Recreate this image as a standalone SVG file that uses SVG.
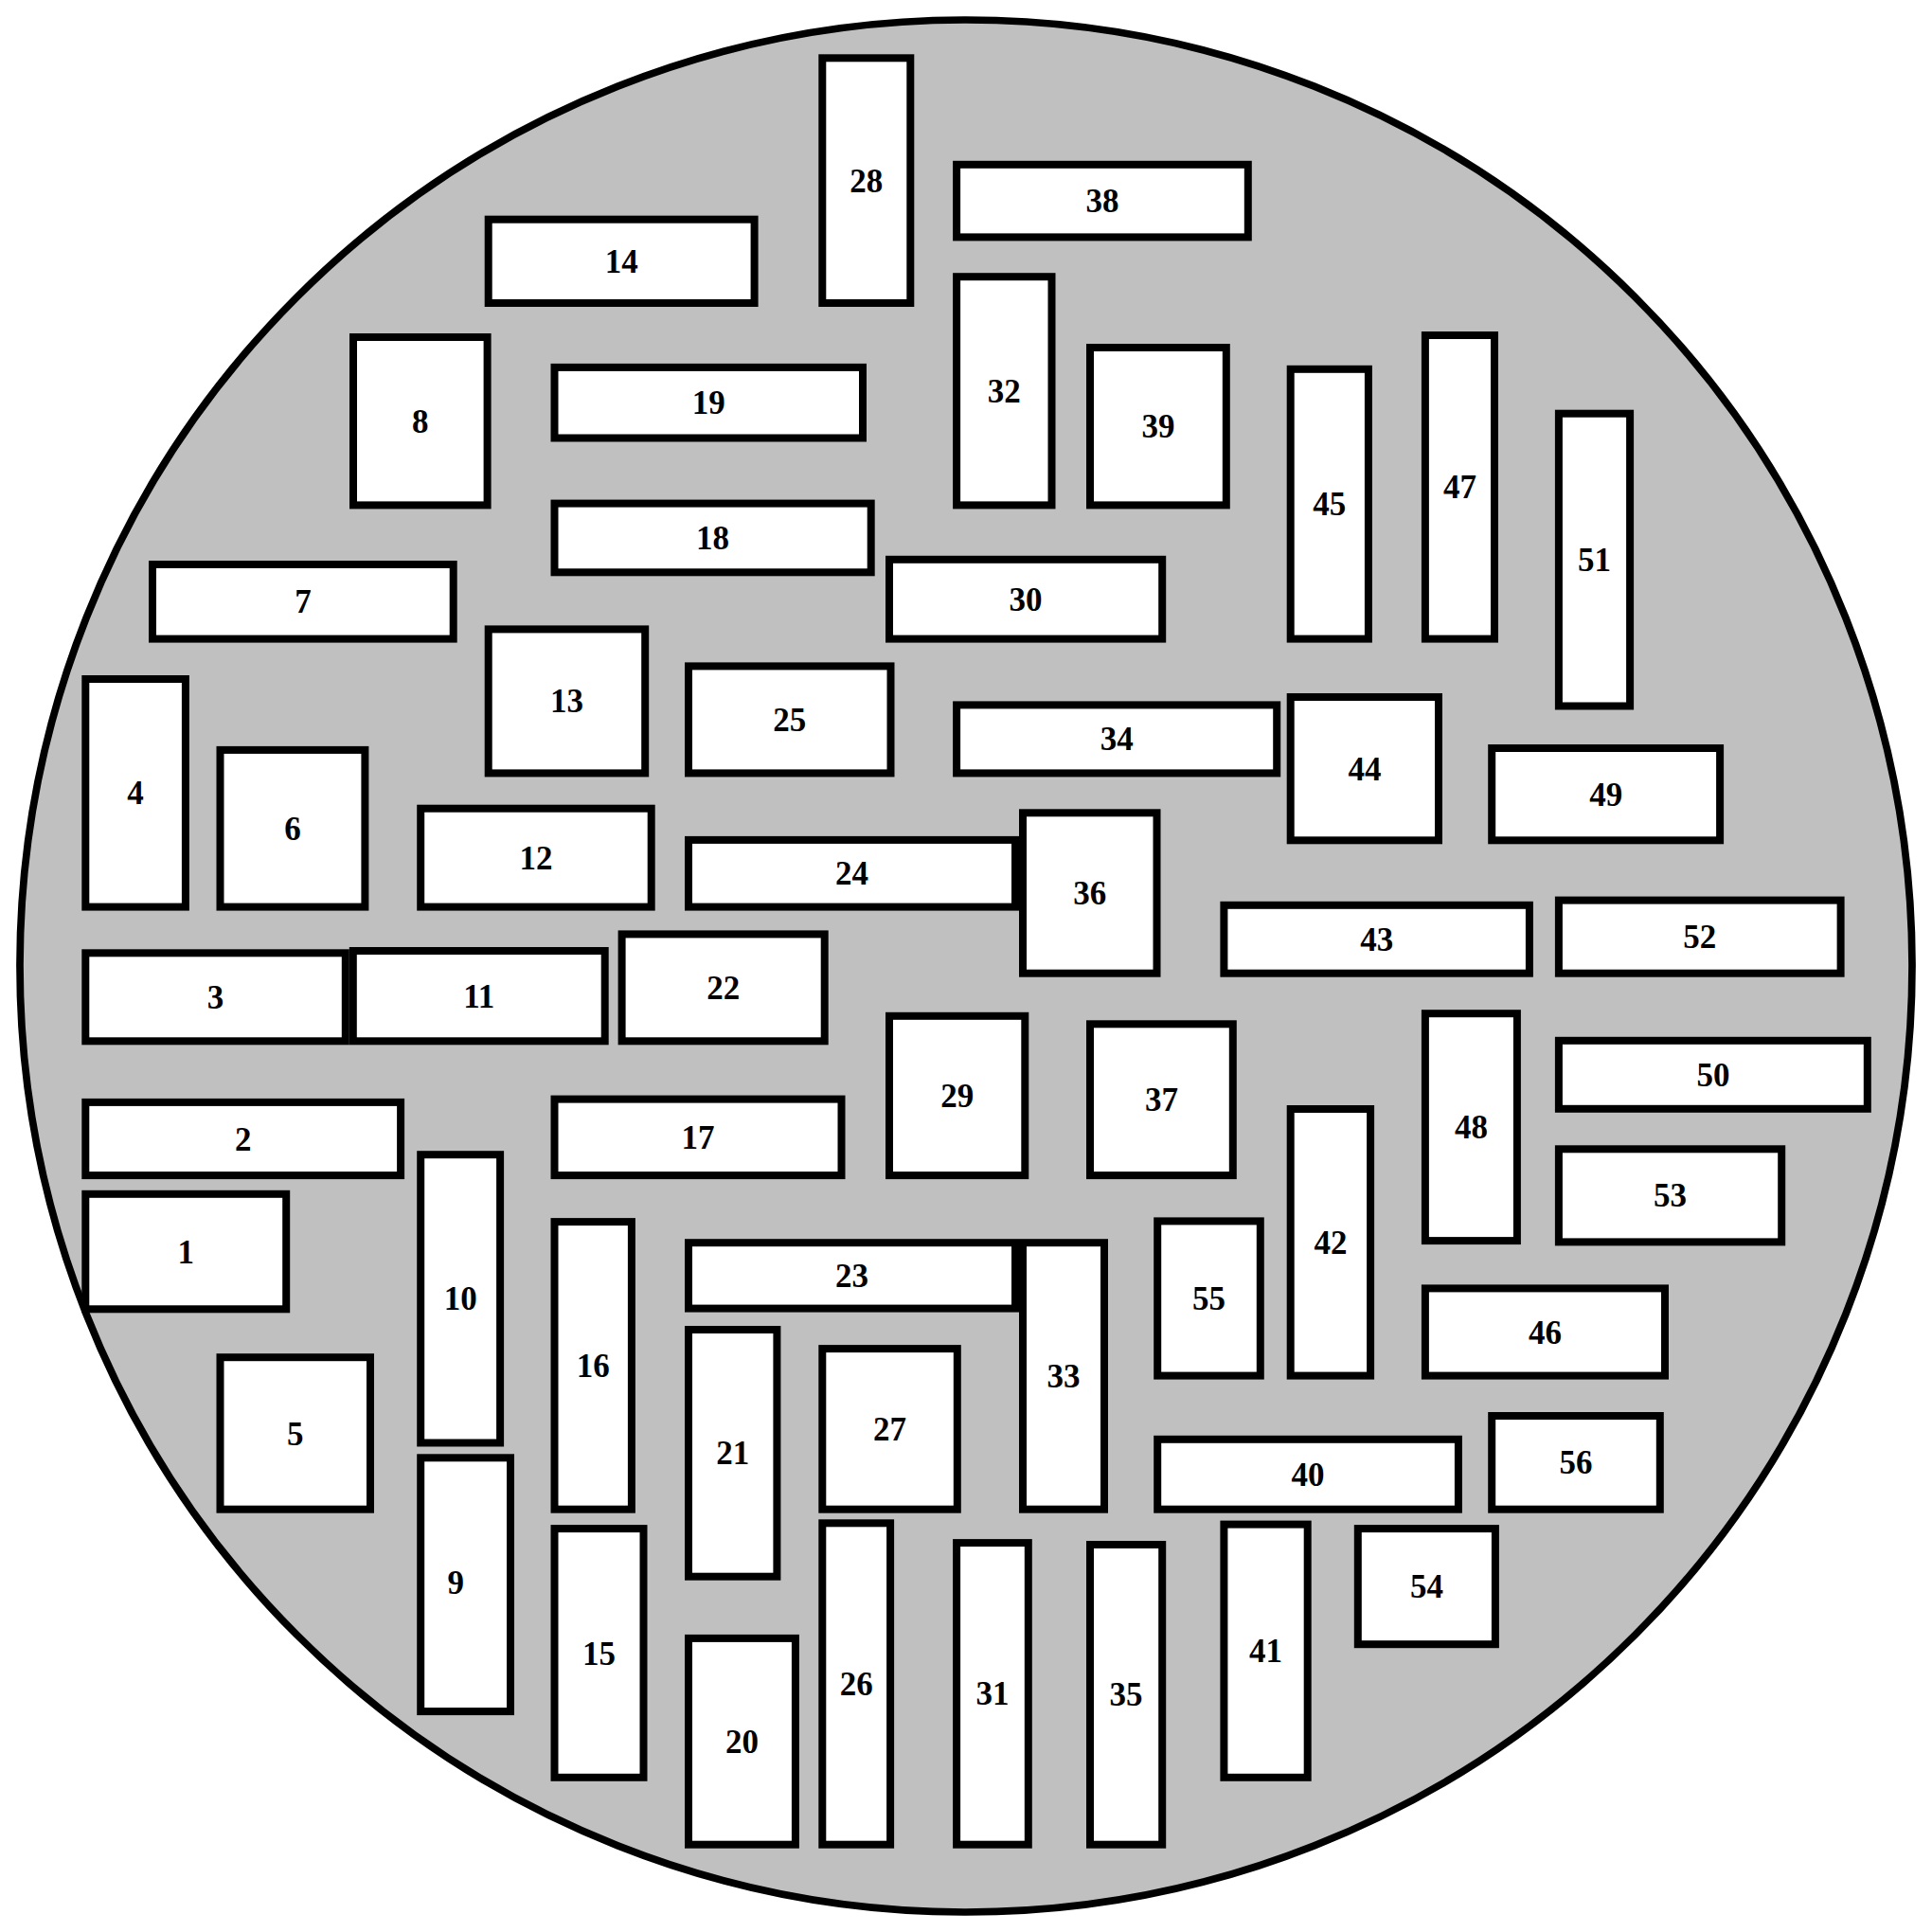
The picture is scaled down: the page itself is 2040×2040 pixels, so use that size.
<svg xmlns="http://www.w3.org/2000/svg" width="2040" height="2040" viewBox="0 0 2040 2040">
<style>
.bg{fill:#c0c0c0;stroke:#000;stroke-width:7.7}
.b rect{fill:#fff;stroke:#000;stroke-width:8}
.b text{font-family:"Liberation Serif","Times New Roman",serif;font-weight:bold;font-size:35px;text-anchor:middle;fill:#000}
</style>
<rect width="2040" height="2040" fill="#fff"/>
<circle class="bg" cx="1020" cy="1020" r="999"/>
<g id="nodes">
<g class="b" id="n1"><rect x="90.3" y="1260.8" width="211.9" height="121.5"/><text x="196.3" y="1333.6">1</text></g>
<g class="b" id="n2"><rect x="90.3" y="1163.9" width="332.8" height="77.2"/><text x="256.7" y="1214.5">2</text></g>
<g class="b" id="n3"><rect x="90.3" y="1006.3" width="274.5" height="93"/><text x="227.6" y="1064.8">3</text></g>
<g class="b" id="n4"><rect x="90.3" y="717" width="105.6" height="240.6"/><text x="143.1" y="849.3">4</text></g>
<g class="b" id="n5"><rect x="232.5" y="1433.2" width="158.5" height="160.5"/><text x="311.8" y="1525.5">5</text></g>
<g class="b" id="n6"><rect x="232.5" y="791.9" width="152.9" height="165.7"/><text x="309" y="886.8">6</text></g>
<g class="b" id="n7"><rect x="161" y="596" width="317.7" height="78.6"/><text x="319.9" y="647.3">7</text></g>
<g class="b" id="n8"><rect x="373" y="356" width="141.6" height="177.4"/><text x="443.8" y="456.7">8</text></g>
<g class="b" id="n9"><rect x="444.2" y="1539.3" width="94.8" height="267.8"/><text x="481.3" y="1682.6">9</text></g>
<g class="b" id="n10"><rect x="444.2" y="1219.2" width="83.9" height="304.3"/><text x="486.2" y="1383.4">10</text></g>
<g class="b" id="n11"><rect x="372.8" y="1004" width="265.9" height="95.3"/><text x="505.8" y="1063.7">11</text></g>
<g class="b" id="n12"><rect x="444.2" y="853.7" width="243.5" height="103.9"/><text x="566" y="917.7">12</text></g>
<g class="b" id="n13"><rect x="515.7" y="664.4" width="165.5" height="152"/><text x="598.5" y="752.4">13</text></g>
<g class="b" id="n14"><rect x="515.7" y="231.7" width="280.9" height="88.3"/><text x="656.2" y="287.9">14</text></g>
<g class="b" id="n15"><rect x="585.5" y="1614.1" width="94" height="262.7"/><text x="632.5" y="1757.5">15</text></g>
<g class="b" id="n16"><rect x="585.5" y="1290.1" width="81.4" height="303.6"/><text x="626.2" y="1453.9">16</text></g>
<g class="b" id="n17"><rect x="585.5" y="1160.6" width="303" height="80.5"/><text x="737" y="1212.9">17</text></g>
<g class="b" id="n18"><rect x="585.5" y="531.6" width="334.2" height="72.7"/><text x="752.6" y="580">18</text></g>
<g class="b" id="n19"><rect x="585.5" y="387.9" width="325.5" height="74.6"/><text x="748.3" y="437.2">19</text></g>
<g class="b" id="n20"><rect x="727" y="1729.9" width="112.9" height="217.8"/><text x="783.5" y="1850.8">20</text></g>
<g class="b" id="n21"><rect x="727" y="1404" width="93.4" height="260.7"/><text x="773.7" y="1546.4">21</text></g>
<g class="b" id="n22"><rect x="656.6" y="986.4" width="214.1" height="112.9"/><text x="763.7" y="1054.9">22</text></g>
<g class="b" id="n23"><rect x="727" y="1312.2" width="345" height="69.4"/><text x="899.5" y="1358.9">23</text></g>
<g class="b" id="n24"><rect x="727" y="886.9" width="345" height="70.7"/><text x="899.5" y="934.3">24</text></g>
<g class="b" id="n25"><rect x="727" y="703.4" width="213.5" height="113"/><text x="833.8" y="771.9">25</text></g>
<g class="b" id="n26"><rect x="868.3" y="1608.3" width="71.8" height="339.4"/><text x="904.2" y="1790">26</text></g>
<g class="b" id="n27"><rect x="868.3" y="1424.1" width="142.5" height="169.6"/><text x="939.6" y="1520.9">27</text></g>
<g class="b" id="n28"><rect x="868.3" y="61.3" width="93" height="258.7"/><text x="914.8" y="202.7">28</text></g>
<g class="b" id="n29"><rect x="939" y="1072.8" width="143.3" height="168.3"/><text x="1010.7" y="1169">29</text></g>
<g class="b" id="n30"><rect x="939" y="590.8" width="288.2" height="83.8"/><text x="1083.1" y="644.7">30</text></g>
<g class="b" id="n31"><rect x="1010.1" y="1629.1" width="75.7" height="318.6"/><text x="1048" y="1800.4">31</text></g>
<g class="b" id="n32"><rect x="1010.1" y="292.2" width="100.4" height="241.2"/><text x="1060.3" y="424.8">32</text></g>
<g class="b" id="n33"><rect x="1080" y="1312.2" width="86" height="281.5"/><text x="1123" y="1465">33</text></g>
<g class="b" id="n34"><rect x="1010.1" y="744.4" width="338.1" height="72"/><text x="1179.2" y="792.4">34</text></g>
<g class="b" id="n35"><rect x="1151" y="1631" width="76.2" height="316.7"/><text x="1189.1" y="1801.4">35</text></g>
<g class="b" id="n36"><rect x="1080" y="858.3" width="141.5" height="169.4"/><text x="1150.8" y="955">36</text></g>
<g class="b" id="n37"><rect x="1151" y="1081.3" width="150.8" height="159.8"/><text x="1226.4" y="1173.2">37</text></g>
<g class="b" id="n38"><rect x="1010.1" y="173.8" width="307.7" height="76.6"/><text x="1164" y="224.1">38</text></g>
<g class="b" id="n39"><rect x="1151" y="367" width="143.8" height="166.4"/><text x="1222.9" y="462.2">39</text></g>
<g class="b" id="n40"><rect x="1222.2" y="1519.8" width="317.7" height="73.9"/><text x="1381.1" y="1568.8">40</text></g>
<g class="b" id="n41"><rect x="1292.4" y="1609.6" width="88.3" height="267.2"/><text x="1336.6" y="1755.2">41</text></g>
<g class="b" id="n42"><rect x="1362.7" y="1171" width="84.4" height="281.6"/><text x="1404.9" y="1323.8">42</text></g>
<g class="b" id="n43"><rect x="1292.4" y="955.8" width="322.5" height="71.9"/><text x="1453.7" y="1003.8">43</text></g>
<g class="b" id="n44"><rect x="1362.7" y="736" width="156.3" height="151.3"/><text x="1440.9" y="823.7">44</text></g>
<g class="b" id="n45"><rect x="1362.7" y="389.8" width="82.2" height="284.8"/><text x="1403.8" y="544.2">45</text></g>
<g class="b" id="n46"><rect x="1504.9" y="1360.4" width="253.1" height="92.2"/><text x="1631.5" y="1418.5">46</text></g>
<g class="b" id="n47"><rect x="1504.9" y="354" width="73.1" height="320.6"/><text x="1541.5" y="526.3">47</text></g>
<g class="b" id="n48"><rect x="1504.9" y="1070.2" width="97" height="239.9"/><text x="1553.4" y="1202.2">48</text></g>
<g class="b" id="n49"><rect x="1575.2" y="790" width="240.9" height="97.3"/><text x="1695.7" y="850.7">49</text></g>
<g class="b" id="n50"><rect x="1645.9" y="1098.8" width="325.9" height="72"/><text x="1808.9" y="1146.8">50</text></g>
<g class="b" id="n51"><rect x="1645.9" y="436.7" width="75.2" height="308.8"/><text x="1683.5" y="603.1">51</text></g>
<g class="b" id="n52"><rect x="1645.9" y="950.6" width="297.7" height="77.1"/><text x="1794.8" y="1001.2">52</text></g>
<g class="b" id="n53"><rect x="1645.9" y="1213.3" width="235.3" height="98.1"/><text x="1763.6" y="1274.4">53</text></g>
<g class="b" id="n54"><rect x="1433.8" y="1614.1" width="145.1" height="122.1"/><text x="1506.4" y="1687.2">54</text></g>
<g class="b" id="n55"><rect x="1222.2" y="1289.4" width="108.6" height="163.2"/><text x="1276.5" y="1383">55</text></g>
<g class="b" id="n56"><rect x="1575.2" y="1495" width="177.6" height="98.7"/><text x="1664" y="1556.4">56</text></g>
</g>
<g id="connectors"></g>
</svg>
